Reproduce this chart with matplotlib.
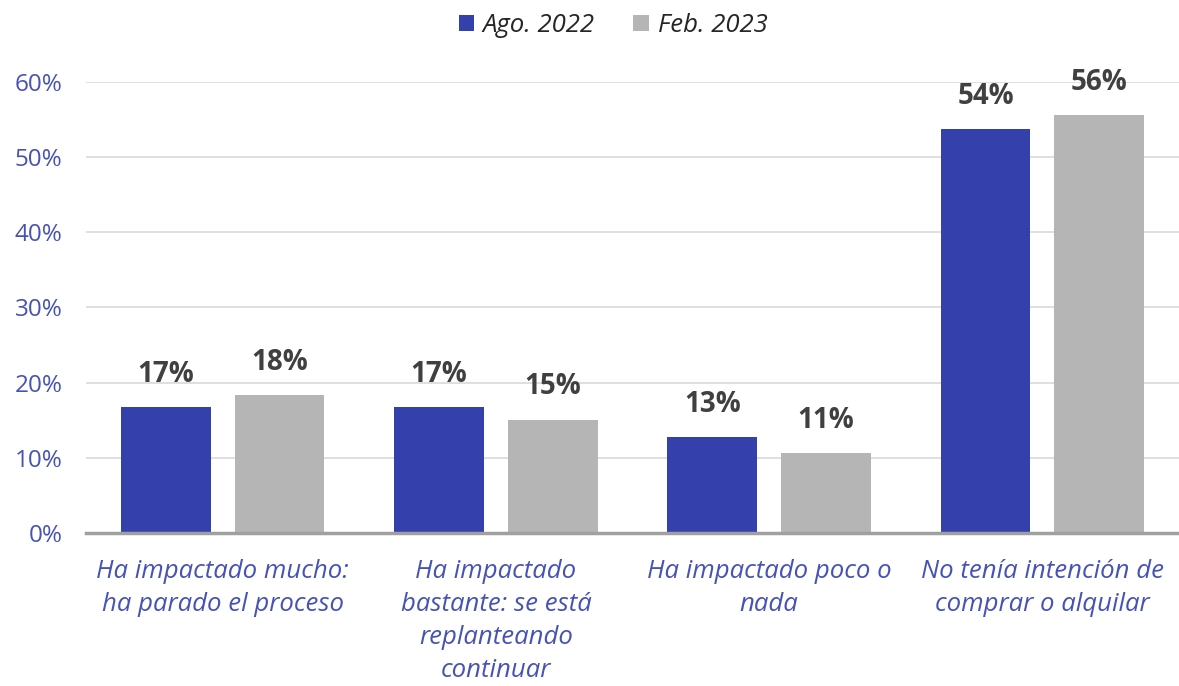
import numpy as np
import matplotlib.pyplot as plt
from matplotlib.ticker import PercentFormatter

plt.rcParams['font.family'] = ['Open Sans', 'DejaVu Sans']

categories = ['Ha impactado mucho:\nha parado el proceso',
              'Ha impactado\nbastante: se está\nreplanteando\ncontinuar',
              'Ha impactado poco o\nnada',
              'No tenía intención de\ncomprar o alquilar']
ago_2022 = [16.7, 16.7, 12.8, 53.7]
feb_2023 = [18.3, 15.1, 10.6, 55.6]
series_names = ['Ago. 2022', 'Feb. 2023']

blue = '#3440AC'
gray = '#B5B5B5'
tick_blue = '#4653B5'
label_gray = '#404040'

fig = plt.figure(figsize=(11.79, 6.86), dpi=100)
ax = fig.add_axes([0.073, 0.223, 0.927, 0.6575])

x = np.arange(len(categories))
w = 0.329
off = 0.208
b1 = ax.bar(x - off, ago_2022, w, color=blue, label=series_names[0], zorder=3)
b2 = ax.bar(x + off, feb_2023, w, color=gray, label=series_names[1], zorder=3)

for bars in (b1, b2):
    for r in bars:
        ax.annotate('%d%%' % round(r.get_height()),
                    (r.get_x() + r.get_width() / 2, r.get_height()),
                    xytext=(0, 13), textcoords='offset points',
                    ha='center', va='bottom', fontsize=20, fontweight='bold',
                    color=label_gray)

ax.set_xlim(-0.5, 3.5)
ax.set_ylim(0, 60)
ax.set_yticks(range(0, 61, 10))
ax.yaxis.set_major_formatter(PercentFormatter(decimals=0))
ax.grid(axis='y', color='#D9D9D9', linewidth=1.2, zorder=0)
for s in ['top', 'right', 'left']:
    ax.spines[s].set_visible(False)
ax.spines['bottom'].set_color('#A0A0A0')
ax.spines['bottom'].set_linewidth(2.5)
ax.spines['bottom'].set_zorder(4)
ax.tick_params(axis='y', length=0, labelsize=17.5, labelcolor=tick_blue, pad=17)
ax.tick_params(axis='x', length=0, pad=19)
ax.set_xticks(x)
ax.set_xticklabels(categories, fontsize=18.5, style='italic', color=tick_blue,
                   linespacing=1.42, va='top')

fig.legend(loc='upper center', bbox_to_anchor=(0.52, 1.015), ncol=2, frameon=False,
           prop={'size': 18.5, 'style': 'italic'}, handlelength=0.6, handleheight=0.6,
           handletextpad=0.35, columnspacing=1.5, labelcolor='#262626')

fig.savefig('out.png', dpi=100)
